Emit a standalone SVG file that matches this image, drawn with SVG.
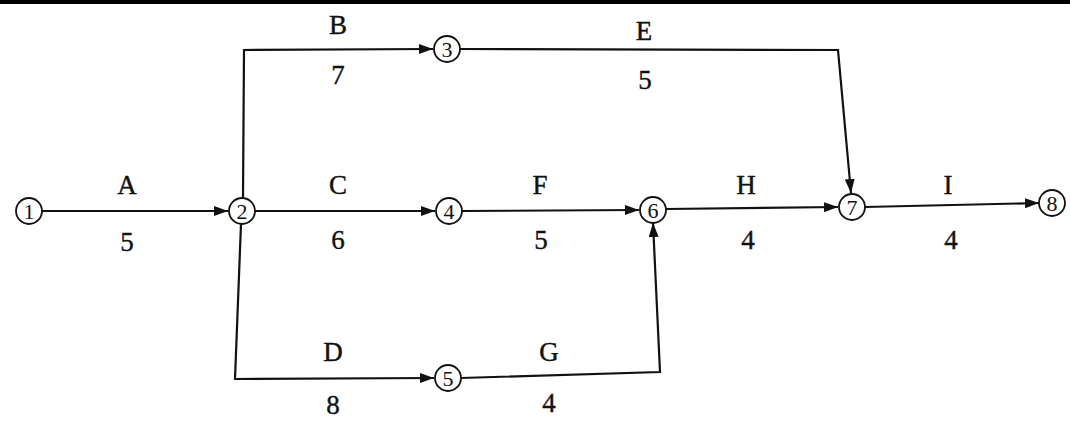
<svg xmlns="http://www.w3.org/2000/svg" width="1070" height="421" viewBox="0 0 1070 421">
<style>
.node circle{fill:#fff;stroke:#111;stroke-width:1.8}
.node text{font-family:"Liberation Serif",serif;font-size:22px;fill:#111;text-anchor:middle}
.lbl{font-family:"Liberation Serif",serif;font-size:27px;fill:#111;stroke:#111;stroke-width:0.4;text-anchor:middle}
.conn path{fill:none;stroke:#111;stroke-width:2.2;marker-end:url(#ah)}
</style>
<defs>
<marker id="ah" markerUnits="userSpaceOnUse" markerWidth="16" markerHeight="12" refX="14" refY="5" orient="auto">
<path d="M0,0 L14,5 L0,10 z" fill="#111"/>
</marker>
</defs>
<rect x="0" y="0" width="1070" height="421" fill="#fff"/>
<rect x="0" y="0" width="1070" height="4" fill="#000"/>
<g class="conn">
<path id="eA" d="M42,211 L228,211"/>
<path id="eB" d="M243,198 L244,50 L433,49"/>
<path id="eC" d="M255,211 L435,211"/>
<path id="eD" d="M241,224 L235,379 L434,378"/>
<path id="eE" d="M460,49 L838,50 L851,193"/>
<path id="eF" d="M462,211 L639,210"/>
<path id="eG" d="M461,378 L660,372 L653,223"/>
<path id="eH" d="M666,209 L838,207"/>
<path id="eI" d="M865,207 L1039,203"/>
</g>
<g id="n1" class="node"><circle cx="29" cy="211" r="13"/><text x="29" y="219">1</text></g>
<g id="n2" class="node"><circle cx="242" cy="211" r="13"/><text x="242" y="219">2</text></g>
<g id="n3" class="node"><circle cx="447" cy="49" r="13"/><text x="447" y="57">3</text></g>
<g id="n4" class="node"><circle cx="449" cy="211" r="13"/><text x="449" y="219">4</text></g>
<g id="n5" class="node"><circle cx="448" cy="378" r="13"/><text x="448" y="386">5</text></g>
<g id="n6" class="node"><circle cx="653" cy="210" r="13"/><text x="653" y="218">6</text></g>
<g id="n7" class="node"><circle cx="852" cy="207" r="13"/><text x="852" y="215">7</text></g>
<g id="n8" class="node"><circle cx="1052" cy="203" r="13"/><text x="1052" y="211">8</text></g>
<g id="labels">
<text class="lbl" x="127" y="194">A</text><text class="lbl" x="127" y="251">5</text>
<text class="lbl" x="338" y="34">B</text><text class="lbl" x="338" y="84">7</text>
<text class="lbl" x="338" y="194">C</text><text class="lbl" x="338" y="249">6</text>
<text class="lbl" x="333" y="361">D</text><text class="lbl" x="333" y="414">8</text>
<text class="lbl" x="644" y="40">E</text><text class="lbl" x="645" y="89">5</text>
<text class="lbl" x="540" y="194">F</text><text class="lbl" x="541" y="249">5</text>
<text class="lbl" x="549" y="361">G</text><text class="lbl" x="549" y="412">4</text>
<text class="lbl" x="746" y="194">H</text><text class="lbl" x="748" y="249">4</text>
<text class="lbl" x="948" y="194">I</text><text class="lbl" x="951" y="249">4</text>
</g>
</svg>
